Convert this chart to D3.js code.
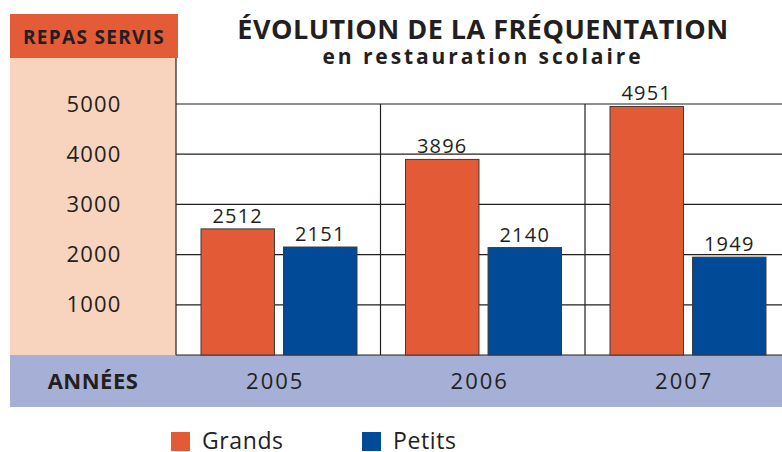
<!DOCTYPE html>
<html lang="fr">
  <head>
    <meta charset="UTF-8" />
    <script src="https://d3js.org/d3.v7.min.js"></script>
    <title>Évolution de la fréquentation</title>
    <style>
      body { margin: 0; background: #fff; }
      text { font-family: 'Open Sans', 'DejaVu Sans', sans-serif; fill: #231f20; }
    </style>
  </head>
  <body>
    <script>
      var years = ['2005', '2006', '2007']
      var series = ['Grands', 'Petits']
      var grands = [2512, 3896, 4951]
      var petits = [2151, 2140, 1949]
      var yTicks = [1000, 2000, 3000, 4000, 5000]
      var colors = ['#e35b36', '#004a98']

      var width = 782
      var height = 452
      var font = "'Open Sans', 'DejaVu Sans', sans-serif"

      var svg = d3.select('body').append('svg')
        .attr('width', width).attr('height', height)

      // echelles
      var x0 = d3.scaleBand().domain(years).range([176, 789.5]).padding(0)
      var x1 = d3.scaleBand().domain(series).range([25, 181]).paddingInner(0.11).paddingOuter(0)
      var y = d3.scaleLinear().domain([0, 5000]).range([355, 104])

      // panneau gauche
      svg.append('rect').attr('x', 10).attr('y', 58).attr('width', 166).attr('height', 297).attr('fill', '#f8d3bd')
      svg.append('rect').attr('x', 10).attr('y', 14).attr('width', 168).attr('height', 44).attr('fill', '#e45b37')
      svg.append('text').attr('x', 94).attr('y', 44).attr('text-anchor', 'middle')
        .attr('font-size', 19).attr('font-weight', 'bold').attr('letter-spacing', 1.3).text('REPAS SERVIS')

      // bande des annees
      svg.append('rect').attr('x', 10).attr('y', 355).attr('width', 772).attr('height', 52).attr('fill', '#a6afd6')
      svg.append('text').attr('x', 93).attr('y', 389).attr('text-anchor', 'middle')
        .attr('font-size', 22).attr('font-weight', 'bold').attr('letter-spacing', 0.5).text('ANNÉES')

      // grille
      var grid = svg.append('g').attr('stroke', '#231f20').attr('stroke-width', 1.2)
      grid.selectAll('line.h').data(yTicks.concat([0])).enter().append('line')
        .attr('x1', 176).attr('x2', width)
        .attr('y1', function (d) { return y(d) }).attr('y2', function (d) { return y(d) })
      grid.append('line').attr('x1', 176).attr('x2', 176).attr('y1', 58).attr('y2', 355)
      grid.selectAll('line.v').data(years.slice(1)).enter().append('line')
        .attr('x1', function (d) { return x0(d) }).attr('x2', function (d) { return x0(d) })
        .attr('y1', y(5000)).attr('y2', y(0))

      // axe y
      var yAxis = d3.axisLeft(y).tickValues(yTicks).tickFormat(d3.format('d')).tickSize(0).tickPadding(0)
      var ga = svg.append('g').attr('transform', 'translate(94,0)').call(yAxis)
      ga.select('.domain').remove()
      ga.selectAll('text').attr('text-anchor', 'middle').attr('font-size', 22).attr('letter-spacing', 1.2)
        .attr('font-family', font).attr('fill', '#231f20')

      // axe x
      var xAxis = d3.axisBottom(x0).tickSize(0).tickPadding(0)
      var gx = svg.append('g').attr('transform', 'translate(-3,389)').call(xAxis)
      gx.select('.domain').remove()
      gx.selectAll('text').attr('dy', 0).attr('font-size', 22).attr('letter-spacing', 2)
        .attr('font-family', font).attr('fill', '#231f20')

      // barres
      var rows = years.map(function (yr, i) {
        return { year: yr, values: [grands[i], petits[i]] }
      })
      var groups = svg.selectAll('g.year').data(rows).enter().append('g')
        .attr('transform', function (d) { return 'translate(' + x0(d.year) + ',0)' })
      var bars = groups.selectAll('g.bar').data(function (d) {
        return d.values.map(function (v, j) { return { s: series[j], v: v, c: colors[j] } })
      }).enter().append('g')
      bars.append('rect')
        .attr('x', function (d) { return x1(d.s) })
        .attr('y', function (d) { return y(d.v) })
        .attr('width', x1.bandwidth())
        .attr('height', function (d) { return y(0) - y(d.v) })
        .attr('fill', function (d) { return d.c })
        .attr('stroke', '#3a3a3a').attr('stroke-width', 1)
      bars.append('text')
        .attr('x', function (d) { return x1(d.s) + x1.bandwidth() / 2 })
        .attr('y', function (d) { return y(d.v) - 6 })
        .attr('text-anchor', 'middle').attr('font-size', 20).attr('letter-spacing', 1.2)
        .text(function (d) { return d.v })

      // titre
      svg.append('text').attr('x', 483).attr('y', 39).attr('text-anchor', 'middle')
        .attr('font-size', 27).attr('font-weight', 'bold').attr('letter-spacing', 0.5)
        .text('ÉVOLUTION DE LA FRÉQUENTATION')
      svg.append('text').attr('x', 483).attr('y', 64).attr('text-anchor', 'middle')
        .attr('font-size', 21).attr('font-weight', 'bold').attr('letter-spacing', 2.9)
        .text('en restauration scolaire')

      // legende
      var legX = [171, 362]
      var leg = svg.selectAll('g.leg').data(series).enter().append('g')
        .attr('transform', function (d, i) { return 'translate(' + legX[i] + ',432)' })
      leg.append('rect').attr('width', 19).attr('height', 19).attr('fill', function (d, i) { return colors[i] })
      leg.append('text').attr('x', 31).attr('y', 17).attr('font-size', 23).attr('letter-spacing', 0.6)
        .text(function (d) { return d })
    </script>
  </body>
</html>
